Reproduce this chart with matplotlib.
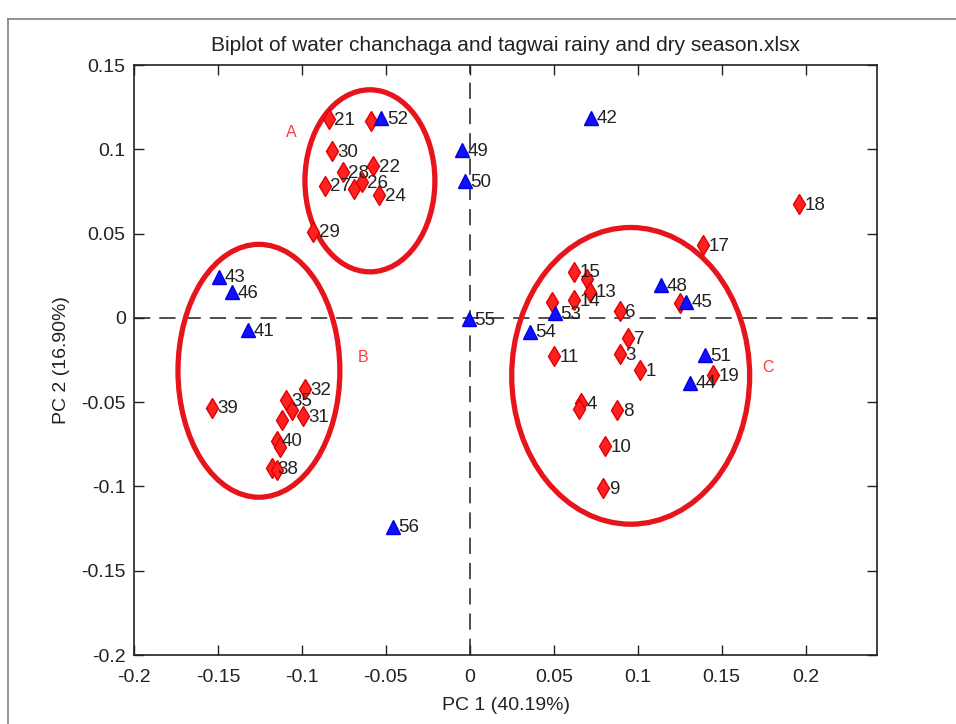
import numpy as np
import matplotlib
matplotlib.use('Agg')
import matplotlib.pyplot as plt
from matplotlib.patches import Ellipse
from matplotlib.lines import Line2D

plt.rcParams['font.family'] = ['Liberation Sans', 'DejaVu Sans']

# 样本 (红色菱形)
red_labels = ['21', '', '30', '28', '22', '27', '', '26', '24', '29',
              '32', '39', '35', '', '31', '', '40', '', '38', '',
              '15', '', '13', '14', '', '6', '7', '11', '3', '',
              '1', '19', '4', '', '8', '10', '9', '17', '18']
red_x = [-0.0839, -0.0591, -0.0823, -0.0758, -0.0576, -0.0863, -0.0690, -0.0645, -0.0540, -0.0933,
         -0.0982, -0.1538, -0.1095, -0.1061, -0.0992, -0.1121, -0.1151, -0.1131, -0.1180, -0.1151,
         0.0619, 0.0698, 0.0714, 0.0619, 0.0492, 0.0893, 0.0942, 0.0502, 0.0893, 0.1254,
         0.1016, 0.1448, 0.0665, 0.0651, 0.0877, 0.0804, 0.0794, 0.1389, 0.1960]
red_y = [0.1180, 0.1168, 0.0990, 0.0864, 0.0902, 0.0785, 0.0765, 0.0805, 0.0730, 0.0512,
         -0.0421, -0.0532, -0.0486, -0.0546, -0.0585, -0.0605, -0.0728, -0.0767, -0.0891, -0.0902,
         0.0275, 0.0230, 0.0156, 0.0107, 0.0097, 0.0042, -0.0120, -0.0225, -0.0214, 0.0091,
         -0.0308, -0.0338, -0.0506, -0.0542, -0.0546, -0.0763, -0.1010, 0.0433, 0.0676]

# 变量 (蓝色三角)
blue_labels = ['52', '43', '46', '41', '49', '50', '55', '56', '42',
               '53', '54', '48', '45', '51', '44']
blue_x = [-0.0526, -0.1492, -0.1418, -0.1323, -0.0049, -0.0030, -0.0006, -0.0457, 0.0724,
          0.0506, 0.0357, 0.1141, 0.1290, 0.1399, 0.1310]
blue_y = [0.1184, 0.0245, 0.0152, -0.0071, 0.0996, 0.0813, -0.0006, -0.1238, 0.1188,
          0.0028, -0.0081, 0.0196, 0.0097, -0.0219, -0.0384]

# 聚类椭圆
group_names = ['A', 'B', 'C']
ell_cx = [-0.0595, -0.1256, 0.0958]
ell_cy = [0.0813, -0.0314, -0.0344]
ell_w = [0.0774, 0.0964, 0.1417]
ell_h = [0.1080, 0.1500, 0.1760]
name_x = [-0.1065, -0.0637, 0.1774]
name_y = [0.1097, -0.0237, -0.0297]

fig = plt.figure(figsize=(9.56, 7.24), dpi=100)
ax = fig.add_axes([134 / 956, 1 - 655 / 724, 743 / 956, 590 / 724])

# 外框
fig.add_artist(Line2D([8 / 956, 8 / 956], [0, 1 - 19 / 724], transform=fig.transFigure,
                      color='#808080', lw=1.2))
fig.add_artist(Line2D([8 / 956, 1], [1 - 19 / 724, 1 - 19 / 724], transform=fig.transFigure,
                      color='#808080', lw=1.2))

ax.axhline(0, color='#404040', ls=(0, (9, 5)), lw=1.3, zorder=1)
ax.axvline(0, color='#404040', ls=(0, (9, 5)), lw=1.3, zorder=1)

for i in range(len(ell_cx)):
    e = Ellipse((ell_cx[i], ell_cy[i]), ell_w[i], ell_h[i], fill=False,
                edgecolor='#e8141c', lw=3.8, zorder=2)
    ax.add_patch(e)
    ax.text(name_x[i], name_y[i], group_names[i], color='#ff3b3b', fontsize=11.5,
            ha='center', va='center', zorder=5)

ax.plot(red_x, red_y, 'd', color='#ff2020', mec='#e00000', ms=10, zorder=3)
ax.plot(blue_x, blue_y, '^', color='#1010ff', mec='#0000e0', ms=9.5, zorder=4)

for lab, x, y in zip(red_labels + blue_labels, red_x + blue_x, red_y + blue_y):
    if lab:
        ax.annotate(lab, (x, y), xytext=(4, -1), textcoords='offset points',
                    ha='left', va='center', fontsize=13.5, color='#222222', zorder=6)

ax.set_xlim(-0.2, 0.2425)
ax.set_ylim(-0.2, 0.15)
ax.set_xticks(np.arange(-0.2, 0.21, 0.05))
ax.set_yticks(np.arange(-0.2, 0.16, 0.05))
ax.set_xticklabels(['-0.2', '-0.15', '-0.1', '-0.05', '0', '0.05', '0.1', '0.15', '0.2'])
ax.set_yticklabels(['-0.2', '-0.15', '-0.1', '-0.05', '0', '0.05', '0.1', '0.15'])
ax.tick_params(direction='in', length=7, width=1, top=True, right=True,
               labelsize=14, colors='#222222')
ax.tick_params(axis='x', pad=10)
ax.tick_params(axis='y', pad=6)
for s in ax.spines.values():
    s.set_color('#222222')
    s.set_linewidth(1.2)

ax.set_title('Biplot of water chanchaga and tagwai rainy and dry season.xlsx',
             fontsize=15, color='#222222', pad=10)
ax.set_xlabel('PC 1 (40.19%)', fontsize=14, color='#222222', labelpad=8)
ax.set_ylabel('PC 2 (16.90%)', fontsize=14, color='#222222', labelpad=8)

fig.savefig('out.png', dpi=100)
